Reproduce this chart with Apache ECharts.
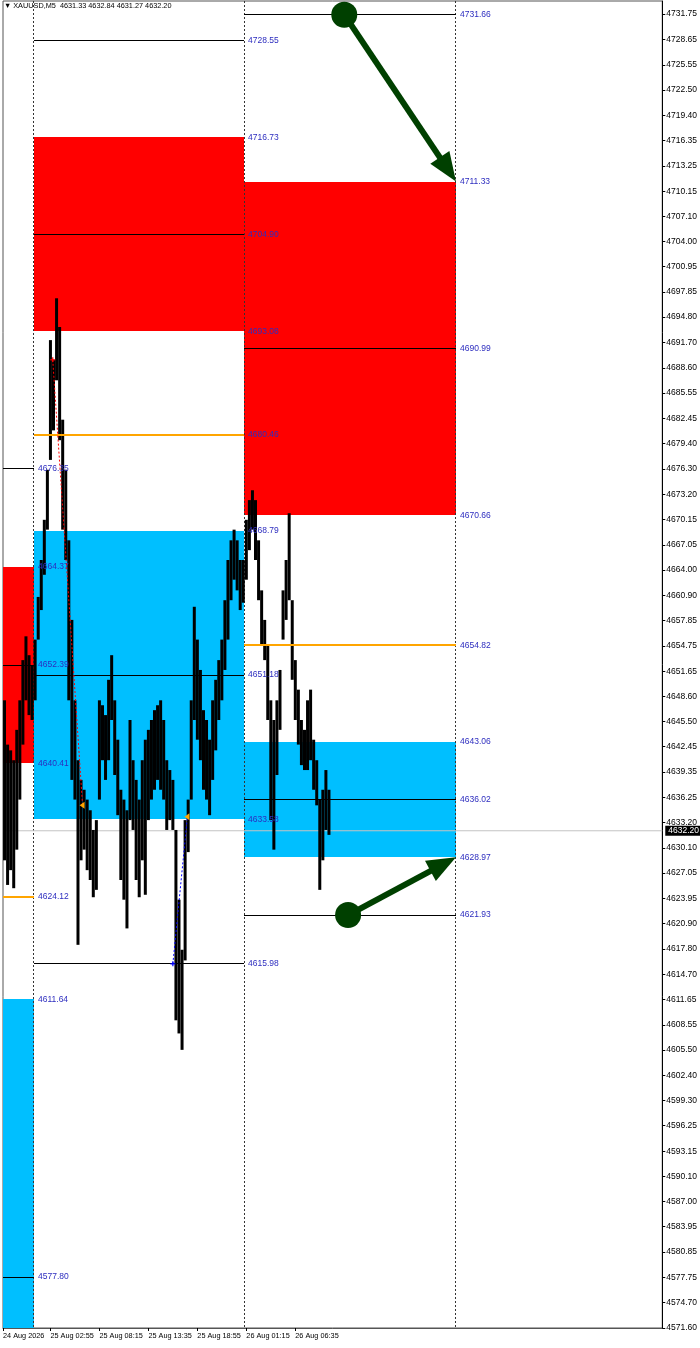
<!DOCTYPE html>
<html><head><meta charset="utf-8">
<script src="https://cdn.jsdelivr.net/npm/echarts@6.0.0/dist/echarts.min.js"></script>
<style>html,body{margin:0;padding:0;background:#fff}#c{width:700px;height:1348px}</style>
</head><body><div id="c"></div>
<script>
// ---------- data ----------
const chartTitle = '\u25BC XAUUSD,M5  4631.33 4632.84 4631.27 4632.20';
const lastPrice = 4632.20;
const yMin = 4571.60, yMax = 4733.33;
const xMax = 861.6; // visible width in M5 bars
const priceTicks = [4571.60,4574.70,4577.75,4580.85,4583.95,4587.00,4590.10,4593.15,4596.25,4599.30,4602.40,4605.50,4608.55,4611.65,4614.70,4617.80,4620.90,4623.95,4627.05,4630.10,4633.20,4636.25,4639.35,4642.45,4645.50,4648.60,4651.65,4654.75,4657.85,4660.90,4664.00,4667.05,4670.15,4673.20,4676.30,4679.40,4682.45,4685.55,4688.60,4691.70,4694.80,4697.85,4700.95,4704.00,4707.10,4710.15,4713.25,4716.35,4719.40,4722.50,4725.55,4728.65,4731.75];
const timeTickIdx = [0, 62, 126, 190, 254, 318, 382];
const timeTickLabels = ['24 Aug 2026','25 Aug 02:55','25 Aug 08:15','25 Aug 13:35','25 Aug 18:55','26 Aug 01:15','26 Aug 06:35'];

// price path: one sample per 4 M5 bars (high / low of the group)
const barFirst = 2, barStep = 4;
const highs = [4648.1,4642.7,4642.0,4640.8,4644.5,4648.1,4653.0,4655.9,4653.6,4652.4,4655.5,4660.7,4665.2,4670.1,4676.2,
4692.0,4689.6,4697.1,4693.6,4682.3,4676.2,4667.6,4657.9,4648.1,4640.8,4638.4,4637.2,4636.0,4634.7,4632.3,4633.5,
4648.1,4647.5,4646.3,4650.6,4653.6,4648.1,4643.3,4637.2,4636.0,4634.7,4645.7,4640.8,4638.4,4636.0,4640.8,4643.3,
4644.5,4645.7,4646.9,4647.5,4648.1,4645.7,4640.8,4639.6,4638.4,4632.3,4623.8,4617.7,4633.5,4636.0,4648.1,4659.5,
4655.5,4651.8,4646.9,4645.7,4643.3,4648.1,4650.6,4653.0,4655.5,4660.3,4665.2,4667.6,4668.9,4667.6,4665.2,4665.2,
4670.1,4672.5,4673.7,4672.5,4667.6,4661.5,4657.9,4654.8,4648.1,4645.7,4648.1,4651.8,4661.5,4665.2,4670.9,4660.3,
4653.0,4649.4,4645.7,4644.5,4648.1,4649.4,4643.3,4640.8,4636.0,4637.2,4639.6,4637.2];
const lows = [4628.6,4625.6,4627.4,4625.2,4629.9,4636.0,4642.7,4648.1,4646.3,4645.7,4648.1,4655.5,4659.1,4663.4,4668.9,
4677.4,4681.0,4687.1,4679.8,4668.9,4665.2,4648.1,4638.4,4636.0,4618.3,4628.6,4629.9,4627.4,4626.2,4624.1,4625.0,
4636.0,4640.8,4638.4,4640.8,4645.7,4639.0,4634.1,4626.2,4623.8,4620.3,4633.5,4632.3,4626.2,4624.1,4628.6,4624.4,
4633.5,4636.0,4637.2,4638.4,4637.2,4636.0,4632.3,4633.5,4632.3,4609.1,4607.5,4605.5,4616.4,4629.6,4636.0,4645.7,
4643.3,4640.8,4637.2,4636.0,4634.1,4638.4,4642.0,4645.7,4648.1,4651.8,4655.5,4660.3,4662.8,4661.5,4659.1,4660.0,
4662.8,4666.4,4668.9,4665.2,4660.3,4654.8,4653.0,4645.7,4633.5,4629.9,4639.0,4644.5,4655.5,4657.9,4660.3,4650.6,
4645.7,4642.7,4640.2,4639.6,4639.6,4640.8,4637.2,4635.3,4625.0,4628.6,4632.3,4631.7];

// level columns (bar index where each column of levels starts / ends)
const colStart = [-60, 40, 315];
const colEnd = [40, 315, 592];
const supplyZones = [[0, 4664.37, 4640.41], [1, 4716.73, 4693.08], [2, 4711.33, 4670.66]];
const demandZones = [[0, 4611.64, null], [1, 4668.79, 4633.58], [2, 4643.06, 4628.97]];
const blackLevels = [[0, 4676.35], [0, 4652.39], [0, 4577.80], [1, 4728.55], [1, 4704.90], [1, 4651.18], [1, 4615.98],
  [2, 4731.66], [2, 4690.99], [2, 4636.02], [2, 4621.93]];
const orangeLevels = [[0, 4624.12], [1, 4680.46], [2, 4654.82]];
// arrows: [fromBar, fromPrice, toBar, toPrice]
const arrows = [[446, 4731.66, 592, 4711.33], [451, 4621.93, 592, 4628.97]];
// closed trades: [openBar, openPrice, closeBar, closePrice]
const sellTrades = [[65, 4689.6, 104, 4635.3]];
const buyTrades = [[222, 4615.98, 241, 4633.9]];

// ---------- styles ----------
const FONT = '"Liberation Sans", Arial, sans-serif';
const FS = 8.5, FSX = 7.3;
const COL = {red: '#ff0000', blue: '#00bfff', black: '#000000', orange: '#ffa500', label: '#2d2dbf', arrow: '#004000', grid: '#555555'};
const crisp = v => Math.round(v - 0.5) + 0.5;

// ---------- derived ----------
const zoneData = z => z.map(r => [colStart[r[0]], colEnd[r[0]], r[1], r[2] == null ? yMin : r[2]]);
const levelData = l => l.map(r => [colStart[r[0]], colEnd[r[0]], r[1]]);
const labelData = [];
supplyZones.concat(demandZones).forEach(r => { labelData.push([colEnd[r[0]], r[1]]); if (r[2] != null) labelData.push([colEnd[r[0]], r[2]]); });
blackLevels.concat(orangeLevels).forEach(r => labelData.push([colEnd[r[0]], r[1]]));
const barData = highs.map((h, i) => [barFirst + i * barStep, lows[i], h]);
const vlineData = colEnd.map(x => [x]);

function rectRender(color) {
  return (p, api) => {
    const a = api.coord([api.value(0), api.value(2)]);
    const b = api.coord([api.value(1), api.value(3)]);
    const x0 = Math.round(a[0]), x1 = Math.round(b[0]), y0 = Math.round(a[1]), y1 = Math.round(b[1]);
    return {type: 'rect', shape: {x: x0, y: y0, width: x1 - x0, height: y1 - y0}, style: {fill: color}};
  };
}
function levelRender(color, w) {
  return (p, api) => {
    const a = api.coord([api.value(0), api.value(2)]);
    const b = api.coord([api.value(1), api.value(2)]);
    const y = w === 1 ? crisp(a[1]) : Math.round(a[1]);
    return {type: 'line', shape: {x1: Math.round(a[0]), y1: y, x2: Math.round(b[0]), y2: y}, style: {stroke: color, lineWidth: w}};
  };
}
function tradeRender(color) {
  return (p, api) => {
    const a = api.coord([api.value(0), api.value(1)]);
    const b = api.coord([api.value(2), api.value(3)]);
    return {type: 'group', children: [
      {type: 'line', shape: {x1: a[0], y1: a[1], x2: b[0], y2: b[1]}, style: {stroke: color, lineWidth: 1, lineDash: [2, 2]}},
      {type: 'line', shape: {x1: a[0] - 2.5, y1: a[1], x2: a[0] + 2.5, y2: a[1]}, style: {stroke: color, lineWidth: 1.2}},
      {type: 'line', shape: {x1: a[0], y1: a[1] - 2.5, x2: a[0], y2: a[1] + 2.5}, style: {stroke: color, lineWidth: 1.2}},
      {type: 'polygon', shape: {points: [[b[0] - 3, b[1]], [b[0] + 2, b[1] - 3.5], [b[0] + 2, b[1] + 3.5]]}, style: {fill: COL.orange}}
    ]};
  };
}

const option = {
  animation: false,
  backgroundColor: '#ffffff',
  title: {text: chartTitle, left: 4, top: 2, padding: 0,
    textStyle: {fontSize: FSX, fontWeight: 'normal', color: '#000', fontFamily: FONT}},
  grid: {left: 2, top: 1, right: 37, bottom: 20, show: true, borderColor: COL.grid, borderWidth: 1, backgroundColor: 'transparent'},
  xAxis: {type: 'value', min: 0, max: xMax, position: 'bottom',
    axisLine: {show: true, onZero: false, lineStyle: {color: COL.grid}},
    splitLine: {show: false},
    axisTick: {show: true, customValues: timeTickIdx, length: 3, lineStyle: {color: '#000'}},
    axisLabel: {show: true, customValues: timeTickIdx, align: 'left', margin: 4, fontSize: FSX, fontFamily: FONT, color: '#000',
      hideOverlap: false, showMinLabel: true, showMaxLabel: true, interval: 0,
      formatter: v => { const i = timeTickIdx.indexOf(Math.round(v)); return i >= 0 ? timeTickLabels[i] : ''; }}
  },
  yAxis: {type: 'value', min: yMin, max: yMax, position: 'right', scale: true,
    axisLine: {show: true, onZero: false, lineStyle: {color: '#000'}},
    splitLine: {show: false},
    axisTick: {show: true, customValues: priceTicks, length: 3, lineStyle: {color: '#000'}},
    axisLabel: {show: true, customValues: priceTicks, margin: 4, fontSize: FS, fontFamily: FONT, color: '#000',
      hideOverlap: false, showMinLabel: true, showMaxLabel: true,
      formatter: v => v.toFixed(2)}
  },
  series: [
    {type: 'custom', name: 'supply', clip: true, z: 1, silent: true, data: zoneData(supplyZones), renderItem: rectRender(COL.red)},
    {type: 'custom', name: 'demand', clip: true, z: 1, silent: true, data: zoneData(demandZones), renderItem: rectRender(COL.blue)},
    {type: 'custom', name: 'separators', clip: true, z: 2, silent: true, data: vlineData,
      renderItem: (p, api) => {
        const a = api.coord([api.value(0), yMax]); const b = api.coord([api.value(0), yMin]);
        const x = crisp(a[0]);
        return {type: 'line', shape: {x1: x, y1: a[1], x2: x, y2: b[1]}, style: {stroke: '#333', lineWidth: 1, lineDash: [2, 2]}};
      }},
    {type: 'line', name: 'last', z: 2, silent: true, symbol: 'none', data: [[0, lastPrice], [xMax, lastPrice]],
      lineStyle: {color: '#c4c4c4', width: 1},
      endLabel: {show: true, formatter: lastPrice.toFixed(2), color: '#fff', backgroundColor: '#000', padding: [1, 3, 0, 3],
        fontSize: FS, fontFamily: FONT, distance: 3}},
    {type: 'custom', name: 'price', clip: true, z: 3, silent: true, data: barData,
      renderItem: (p, api) => {
        const hi = api.coord([api.value(0), api.value(2)]);
        const lo = api.coord([api.value(0), api.value(1)]);
        return {type: 'rect', shape: {x: hi[0] - 1.5, y: hi[1], width: 3, height: Math.max(1, lo[1] - hi[1])}, style: {fill: '#000'}};
      }},
    {type: 'custom', name: 'levels', clip: true, z: 4, silent: true, data: levelData(blackLevels), renderItem: levelRender('#000', 1)},
    {type: 'custom', name: 'levelsOrange', clip: true, z: 4, silent: true, data: levelData(orangeLevels), renderItem: levelRender(COL.orange, 2)},
    {type: 'custom', name: 'labels', clip: false, z: 5, silent: true, data: labelData,
      renderItem: (p, api) => {
        const a = api.coord([api.value(0), api.value(1)]);
        return {type: 'text', x: Math.round(a[0]) + 4, y: a[1],
          style: {text: api.value(1).toFixed(2), fill: COL.label, fontSize: FS, fontFamily: FONT, align: 'left', verticalAlign: 'middle'}};
      }},
    {type: 'custom', name: 'sells', clip: true, z: 6, silent: true, data: sellTrades, renderItem: tradeRender('#ff0000')},
    {type: 'custom', name: 'buys', clip: true, z: 6, silent: true, data: buyTrades, renderItem: tradeRender('#0000ff')},
    {type: 'custom', name: 'arrows', clip: false, z: 7, silent: true, data: arrows,
      renderItem: (p, api) => {
        const a = api.coord([api.value(0), api.value(1)]);
        const b = api.coord([api.value(2), api.value(3)]);
        const dx = b[0] - a[0], dy = b[1] - a[1], L = Math.hypot(dx, dy), ux = dx / L, uy = dy / L;
        const hl = 29, hw = 11.5;
        const bx = b[0] - ux * hl, by = b[1] - uy * hl;
        return {type: 'group', children: [
          {type: 'line', shape: {x1: a[0], y1: a[1], x2: bx + ux * 3, y2: by + uy * 3}, style: {stroke: COL.arrow, lineWidth: 6}},
          {type: 'polygon', shape: {points: [[b[0], b[1]], [bx - uy * hw, by + ux * hw], [bx + uy * hw, by - ux * hw]]}, style: {fill: COL.arrow}},
          {type: 'circle', shape: {cx: a[0], cy: a[1], r: 13}, style: {fill: COL.arrow}}
        ]};
      }}
  ]
};
const chart = echarts.init(document.getElementById('c'), null, {renderer: 'canvas'});
chart.setOption(option);
</script></body></html>
